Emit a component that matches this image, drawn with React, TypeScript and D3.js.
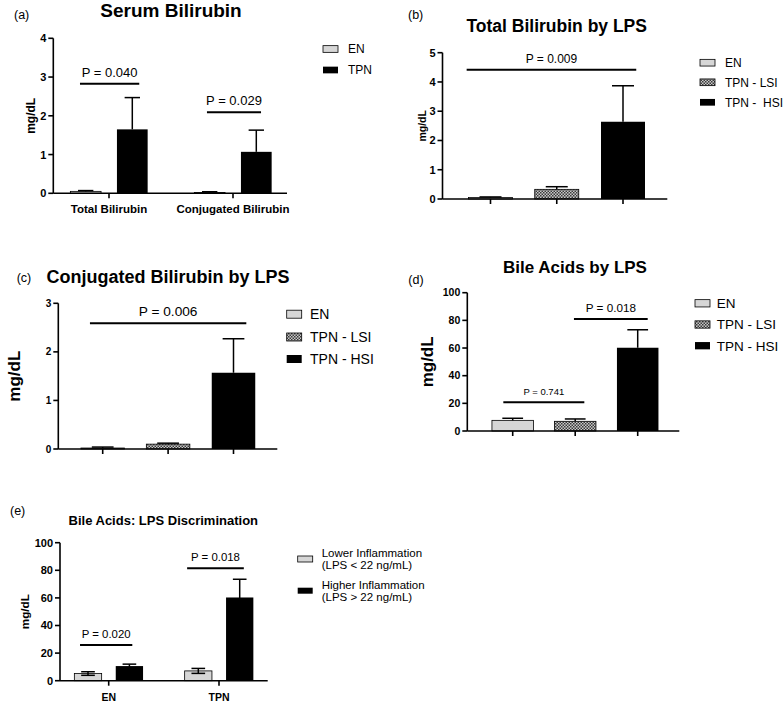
import React from "react";
import * as d3 from "d3";

// ---------- Panel (a): Serum Bilirubin ----------
const serumCategories = ["Total Bilirubin", "Conjugated Bilirubin"];
const serumSeries = ["EN", "TPN"];
const serumEN = [0.05, 0.02];
const serumENErr = [0.02, 0.02];
const serumTPN = [1.65, 1.07];
const serumTPNErr = [0.82, 0.56];
const serumTicks = [0, 1, 2, 3, 4];
const serumPLabels = ["P = 0.040", "P = 0.029"];
const serumPLevel = [2.83, 2.09];
const serumPFrom = [-0.234, 0.79];
const serumPTo = [0.244, 1.226];

// ---------- Panels (b)-(d): by LPS group ----------
const lpsGroups = ["EN", "TPN - LSI", "TPN -  HSI"];
const lpsGroupsD = ["EN", "TPN - LSI", "TPN - HSI"];

const totalByLps = [0.05, 0.33, 2.64];
const totalByLpsErr = [0.02, 0.09, 1.23];
const totalTicks = [0, 1, 2, 3, 4, 5];
const totalPLabels = ["P = 0.009"];
const totalPLevel = [4.42];
const totalPFrom = [-0.36];
const totalPTo = [2.2];

const conjByLps = [0.02, 0.1, 1.57];
const conjByLpsErr = [0.02, 0.02, 0.7];
const conjTicks = [0, 1, 2, 3];
const conjPLabels = ["P = 0.006"];
const conjPLevel = [2.59];
const conjPFrom = [-0.195];
const conjPTo = [2.196];

const acidsByLps = [7.7, 7.0, 60.2];
const acidsByLpsErr = [1.5, 1.7, 13.0];
const acidsTicks = [0, 20, 40, 60, 80, 100];
const acidsPLabels = ["P = 0.741", "P = 0.018"];
const acidsPLevel = [20.7, 81];
const acidsPFrom = [-0.15, 0.98];
const acidsPTo = [1.146, 2.16];

// ---------- Panel (e): Bile Acids: LPS Discrimination ----------
const discCategories = ["EN", "TPN"];
const discSeries = [
  ["Lower Inflammation", "(LPS < 22 ng/mL)"],
  ["Higher Inflammation", "(LPS > 22 ng/mL)"],
];
const discLower = [5.2, 7.1];
const discLowerErr = [1.3, 1.8];
const discHigher = [10.6, 60.3];
const discHigherErr = [1.4, 13.2];
const discTicks = [0, 20, 40, 60, 80, 100];
const discPLabels = ["P = 0.020", "P = 0.018"];
const discPLevel = [25.9, 81.4];
const discPFrom = [-0.26, 0.711];
const discPTo = [0.214, 1.225];

// ---------- styling ----------
const FONT = "'Liberation Sans', Arial, Helvetica, sans-serif";
const GRAY = "#d6d6d6";
const BLACK = "#000";
const HATCH = "url(#hatch)";
const groupFills = [GRAY, HATCH, BLACK];

type Bar = { i: number; dx: number; v: number; e: number; fill: string; two?: boolean };
type Sig = { label: string; from: number; to: number; y: number; size: number };
type Leg = { lines: string[]; fill: string; cy: number };

interface Cfg {
  letter: string; letterX: number; letterY: number;
  title: string; titleX: number; titleY: number; titleSize: number;
  ax0: number; ax1: number; yTop: number; yBottom: number; yMax: number; yTicks: number[];
  tickLabelSize: number;
  idxDomain: [number, number]; idxRange: [number, number];
  xTicks: number[]; xLabels?: string[]; xLabelSize?: number; xLabelY?: number;
  barWidth: number; bars: Bar[];
  yLabelX: number; yLabelSize: number;
  sigs: Sig[];
  legSwX: number; legSwW: number; legSwH: number; legTextX: number; legSize: number; legLineH: number; legend: Leg[];
}

function Panel({ c }: { c: Cfg }) {
  const y = d3.scaleLinear().domain([0, c.yMax]).range([c.yBottom, c.yTop]);
  const x = d3.scaleLinear().domain(c.idxDomain).range(c.idxRange);
  const yMid = (c.yTop + c.yBottom) / 2;
  const cap = c.barWidth * 0.5;
  return (
    <g fontFamily={FONT}>
      <text x={c.letterX} y={c.letterY} fontSize={12.5}>{c.letter}</text>
      <text x={c.titleX} y={c.titleY} fontSize={c.titleSize} fontWeight="bold" textAnchor="middle">{c.title}</text>
      {/* bars */}
      {c.bars.map((b, k) => {
        const cx = x(b.i) + b.dx;
        return (
          <g key={k}>
            <rect x={cx - c.barWidth / 2} y={y(b.v)} width={c.barWidth} height={y(0) - y(b.v)}
              fill={b.fill} stroke="#000" strokeWidth={b.fill === BLACK ? 0 : 0.8} />
            <line x1={cx} x2={cx} y1={y(b.two ? b.v - b.e : b.v)} y2={y(b.v + b.e)} stroke="#000" strokeWidth={1.5} />
            <line x1={cx - cap / 2} x2={cx + cap / 2} y1={y(b.v + b.e)} y2={y(b.v + b.e)} stroke="#000" strokeWidth={1.5} />
            {b.two && (
              <line x1={cx - cap / 2} x2={cx + cap / 2} y1={y(b.v - b.e)} y2={y(b.v - b.e)} stroke="#000" strokeWidth={1.5} />
            )}
          </g>
        );
      })}
      {/* y axis */}
      <line x1={c.ax0} x2={c.ax0} y1={c.yTop} y2={c.yBottom} stroke="#000" strokeWidth={1.6} />
      {c.yTicks.map((t) => (
        <g key={t}>
          <line x1={c.ax0 - 5} x2={c.ax0} y1={y(t)} y2={y(t)} stroke="#000" strokeWidth={1.6} />
          <text x={c.ax0 - 7} y={y(t)} dy="0.36em" textAnchor="end" fontSize={c.tickLabelSize} fontWeight="bold">{t}</text>
        </g>
      ))}
      {/* x axis */}
      <line x1={c.ax0} x2={c.ax1} y1={c.yBottom} y2={c.yBottom} stroke="#000" strokeWidth={1.6} />
      {c.xTicks.map((t, k) => (
        <line key={k} x1={x(t)} x2={x(t)} y1={c.yBottom} y2={c.yBottom + 5} stroke="#000" strokeWidth={1.6} />
      ))}
      {c.xLabels && c.xLabels.map((l, k) => (
        <text key={l} x={x(c.xTicks[k])} y={c.xLabelY} textAnchor="middle" fontSize={c.xLabelSize} fontWeight="bold">{l}</text>
      ))}
      {/* y label */}
      <text transform={`translate(${c.yLabelX + 0.26 * c.yLabelSize},${yMid}) rotate(-90)`} textAnchor="middle"
        fontSize={c.yLabelSize} fontWeight="bold">mg/dL</text>
      {/* significance */}
      {c.sigs.map((s, k) => (
        <g key={k}>
          <line x1={x(s.from)} x2={x(s.to)} y1={y(s.y)} y2={y(s.y)} stroke="#000" strokeWidth={2} />
          <text x={(x(s.from) + x(s.to)) / 2} y={y(s.y) - 7} textAnchor="middle" fontSize={s.size}>{s.label}</text>
        </g>
      ))}
      {/* legend */}
      {c.legend.map((l, k) => (
        <g key={k}>
          <rect x={c.legSwX} y={l.cy - c.legSwH / 2} width={c.legSwW} height={c.legSwH} fill={l.fill}
            stroke="#000" strokeWidth={l.fill === BLACK ? 0 : 0.8} />
          {l.lines.map((t, j) => (
            <text key={j} x={c.legTextX} y={l.cy + (j - (l.lines.length - 1) / 2) * c.legLineH} dy="0.36em"
              fontSize={c.legSize} style={{ whiteSpace: "pre" }}>{t}</text>
          ))}
        </g>
      ))}
    </g>
  );
}

const serumBars: Bar[] = serumCategories.flatMap((_, i) => [
  { i, dx: -23.3, v: serumEN[i], e: serumENErr[i], fill: GRAY },
  { i, dx: 23.3, v: serumTPN[i], e: serumTPNErr[i], fill: BLACK },
]);

const cfgA: Cfg = {
  letter: "(a)", letterX: 14, letterY: 19,
  title: "Serum Bilirubin", titleX: 171, titleY: 16.7, titleSize: 19,
  ax0: 53.3, ax1: 287, yTop: 38.3, yBottom: 193.3, yMax: 4, yTicks: serumTicks, tickLabelSize: 11,
  idxDomain: [0, 1], idxRange: [109, 233],
  xTicks: [0, 1], xLabels: serumCategories, xLabelSize: 11.5, xLabelY: 213,
  barWidth: 30.7, bars: serumBars,
  yLabelX: 31.7, yLabelSize: 12,
  sigs: serumPLabels.map((label, k) => ({ label, from: serumPFrom[k], to: serumPTo[k], y: serumPLevel[k], size: 13 })),
  legSwX: 323, legSwW: 15, legSwH: 6.7, legTextX: 348, legSize: 12, legLineH: 12,
  legend: serumSeries.map((s, k) => ({ lines: [s], fill: k === 0 ? GRAY : BLACK, cy: [49, 70][k] })),
};

const cfgB: Cfg = {
  letter: "(b)", letterX: 408, letterY: 19.3,
  title: "Total Bilirubin by LPS", titleX: 556.7, titleY: 32.3, titleSize: 17.5,
  ax0: 442.5, ax1: 667.3, yTop: 52.7, yBottom: 199, yMax: 5, yTicks: totalTicks, tickLabelSize: 11,
  idxDomain: [0, 2], idxRange: [490.5, 623],
  xTicks: [0, 1, 2],
  barWidth: 44, bars: lpsGroups.map((_, i) => ({ i, dx: 0, v: totalByLps[i], e: totalByLpsErr[i], fill: groupFills[i] })),
  yLabelX: 423.3, yLabelSize: 10.5,
  sigs: totalPLabels.map((label, k) => ({ label, from: totalPFrom[k], to: totalPTo[k], y: totalPLevel[k], size: 12 })),
  legSwX: 700, legSwW: 15, legSwH: 6.7, legTextX: 725, legSize: 12, legLineH: 12,
  legend: lpsGroups.map((g, k) => ({ lines: [g], fill: groupFills[k], cy: [62.7, 82.3, 102.3][k] })),
};

const cfgC: Cfg = {
  letter: "(c)", letterX: 16.7, letterY: 281.8,
  title: "Conjugated Bilirubin by LPS", titleX: 168, titleY: 283.3, titleSize: 18,
  ax0: 58.3, ax1: 277.3, yTop: 303.3, yBottom: 449, yMax: 3, yTicks: conjTicks, tickLabelSize: 10,
  idxDomain: [0, 2], idxRange: [102.7, 233.5],
  xTicks: [0, 1, 2],
  barWidth: 43.5, bars: lpsGroupsD.map((_, i) => ({ i, dx: 0, v: conjByLps[i], e: conjByLpsErr[i], fill: groupFills[i] })),
  yLabelX: 15.5, yLabelSize: 17,
  sigs: conjPLabels.map((label, k) => ({ label, from: conjPFrom[k], to: conjPTo[k], y: conjPLevel[k], size: 13.7 })),
  legSwX: 286.7, legSwW: 15, legSwH: 8, legTextX: 310, legSize: 14, legLineH: 14,
  legend: lpsGroupsD.map((g, k) => ({ lines: [g], fill: groupFills[k], cy: [314.2, 337, 359][k] })),
};

const cfgD: Cfg = {
  letter: "(d)", letterX: 408.3, letterY: 284.2,
  title: "Bile Acids by LPS", titleX: 575, titleY: 273.3, titleSize: 17,
  ax0: 467.3, ax1: 679.3, yTop: 292.7, yBottom: 431, yMax: 100, yTicks: acidsTicks, tickLabelSize: 10.5,
  idxDomain: [0, 2], idxRange: [512.7, 637.7],
  xTicks: [0, 1, 2],
  barWidth: 41.5, bars: lpsGroupsD.map((_, i) => ({ i, dx: 0, v: acidsByLps[i], e: acidsByLpsErr[i], fill: groupFills[i] })),
  yLabelX: 428.8, yLabelSize: 17,
  sigs: acidsPLabels.map((label, k) => ({ label, from: acidsPFrom[k], to: acidsPTo[k], y: acidsPLevel[k], size: k === 0 ? 9.5 : 11.7 })),
  legSwX: 695, legSwW: 15, legSwH: 7.3, legTextX: 716.7, legSize: 13.5, legLineH: 13,
  legend: lpsGroupsD.map((g, k) => ({ lines: [g], fill: groupFills[k], cy: [303.3, 324.5, 345.7][k] })),
};

const discBars: Bar[] = discCategories.flatMap((_, i) => [
  { i, dx: -20.7, v: discLower[i], e: discLowerErr[i], fill: GRAY, two: true },
  { i, dx: 20.7, v: discHigher[i], e: discHigherErr[i], fill: BLACK, two: true },
]);

const cfgE: Cfg = {
  letter: "(e)", letterX: 10, letterY: 515.2,
  title: "Bile Acids: LPS Discrimination", titleX: 163.3, titleY: 525, titleSize: 13,
  ax0: 60, ax1: 267.7, yTop: 542.7, yBottom: 680.7, yMax: 100, yTicks: discTicks, tickLabelSize: 11,
  idxDomain: [0, 1], idxRange: [108.7, 219],
  xTicks: [0, 1], xLabels: discCategories, xLabelSize: 10.5, xLabelY: 701,
  barWidth: 27.3, bars: discBars,
  yLabelX: 25.7, yLabelSize: 11.7,
  sigs: discPLabels.map((label, k) => ({ label, from: discPFrom[k], to: discPTo[k], y: discPLevel[k], size: 11.4 })),
  legSwX: 297.7, legSwW: 15, legSwH: 6, legTextX: 321.7, legSize: 11.5, legLineH: 12,
  legend: discSeries.map((lines, k) => ({ lines, fill: k === 0 ? GRAY : BLACK, cy: [559, 590.7][k] })),
};

export default function App() {
  return (
    <svg width={784} height={703} style={{ position: "absolute", left: 0, top: 0, background: "#fff" }}>
      <defs>
        <pattern id="hatch" width={3} height={3} patternUnits="userSpaceOnUse">
          <rect width={3} height={3} fill="#c8c8c8" />
          <rect width={1.5} height={1.5} fill="#3a3a3a" />
          <rect x={1.5} y={1.5} width={1.5} height={1.5} fill="#3a3a3a" />
        </pattern>
      </defs>
      <rect width={784} height={703} fill="#fff" />
      <Panel c={cfgA} />
      <Panel c={cfgB} />
      <Panel c={cfgC} />
      <Panel c={cfgD} />
      <Panel c={cfgE} />
    </svg>
  );
}
